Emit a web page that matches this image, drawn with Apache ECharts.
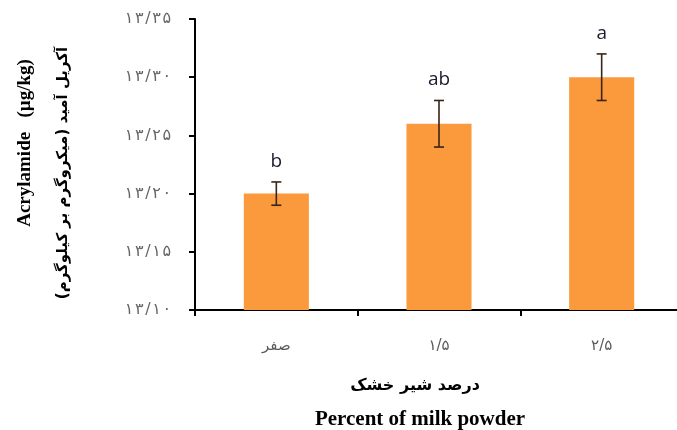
<!DOCTYPE html>
<html><head><meta charset="utf-8">
<script src="https://cdn.jsdelivr.net/npm/echarts@6/dist/echarts.min.js"></script>
<style>html,body{margin:0;padding:0;background:#fff;overflow:hidden;width:677px;height:430px}#c{width:700px;height:430px}</style>
</head><body><div id="c"></div>
<script>
const categories = ['صفر', '۱/۵', '۲/۵'];
const values = [13.20, 13.26, 13.30];
const errors = [0.010, 0.020, 0.020];
const letters = ['b', 'ab', 'a'];
const yTickLabels = ['۱۳/۱۰', '۱۳/۱۵', '۱۳/۲۰', '۱۳/۲۵', '۱۳/۳۰', '۱۳/۳۵'];
const yMin = 13.10, yMax = 13.35, yStep = 0.05;

const sp = s => s.split('').join('\u200A');

const chart = echarts.init(document.getElementById('c'));
chart.setOption({
  animation: false,
  backgroundColor: '#fff',
  grid: { left: 195, top: 19, height: 291, width: 488 },
  xAxis: {
    type: 'category', data: categories,
    axisLine: { lineStyle: { color: '#000', width: 2 } },
    axisTick: { show: true, length: 6, lineStyle: { color: '#000', width: 2 } },
    axisLabel: { color: '#595959', fontSize: 15, fontFamily: 'DejaVu Sans', margin: 29 }
  },
  yAxis: {
    type: 'value', min: yMin, max: yMax, interval: yStep,
    splitLine: { show: false },
    axisLine: { show: true, lineStyle: { color: '#000', width: 2 } },
    axisTick: { show: true, length: 6, lineStyle: { color: '#000', width: 2 } },
    axisLabel: {
      color: '#666', fontSize: 16, fontFamily: 'DejaVu Sans', margin: 24,
      formatter: v => sp(yTickLabels[Math.round((v - yMin) / yStep)])
    }
  },
  series: [
    {
      type: 'bar', data: values, barWidth: '40%',
      itemStyle: { color: '#FA9A3C' }
    },
    {
      type: 'custom', data: values.map((v, i) => [i, v, errors[i]]),
      z: 10,
      renderItem: function (params, api) {
        const i = api.value(0), v = api.value(1), e = api.value(2);
        const top = api.coord([i, v + e]);
        const bot = api.coord([i, v - e]);
        const hw = 5;
        const st = { stroke: '#3a2418', lineWidth: 1.6 };
        return { type: 'group', children: [
          { type: 'line', shape: { x1: top[0], y1: top[1], x2: bot[0], y2: bot[1] }, style: st },
          { type: 'line', shape: { x1: top[0] - hw, y1: top[1], x2: top[0] + hw, y2: top[1] }, style: st },
          { type: 'line', shape: { x1: bot[0] - hw, y1: bot[1], x2: bot[0] + hw, y2: bot[1] }, style: st },
          { type: 'text', x: top[0], y: top[1] - 11, style: {
            text: letters[params.dataIndex], fill: '#1c1c30', font: '19px "Open Sans"',
            align: 'center', verticalAlign: 'bottom' } }
        ]};
      }
    }
  ],
  graphic: [
    { type: 'text', x: 25, y: 143, rotation: Math.PI / 2,
      style: { text: 'Acrylamide   (µg/kg)', font: 'bold 19px "Liberation Serif"', fill: '#000', align: 'center', verticalAlign: 'middle' } },
    { type: 'text', x: 63, y: 173, rotation: Math.PI / 2,
      style: { text: 'آکریل آمید (میکروگرم بر کیلوگرم)', font: 'bold 15px "DejaVu Sans"', fill: '#000', align: 'center', verticalAlign: 'middle' } },
    { type: 'text', x: 415, y: 386,
      style: { text: 'درصد شیر خشک', font: 'bold 16px "DejaVu Sans"', fill: '#000', align: 'center', verticalAlign: 'middle' } },
    { type: 'text', x: 420, y: 420,
      style: { text: 'Percent of milk powder', font: 'bold 21px "Liberation Serif"', fill: '#000', align: 'center', verticalAlign: 'middle' } }
  ]
});
</script></body></html>
